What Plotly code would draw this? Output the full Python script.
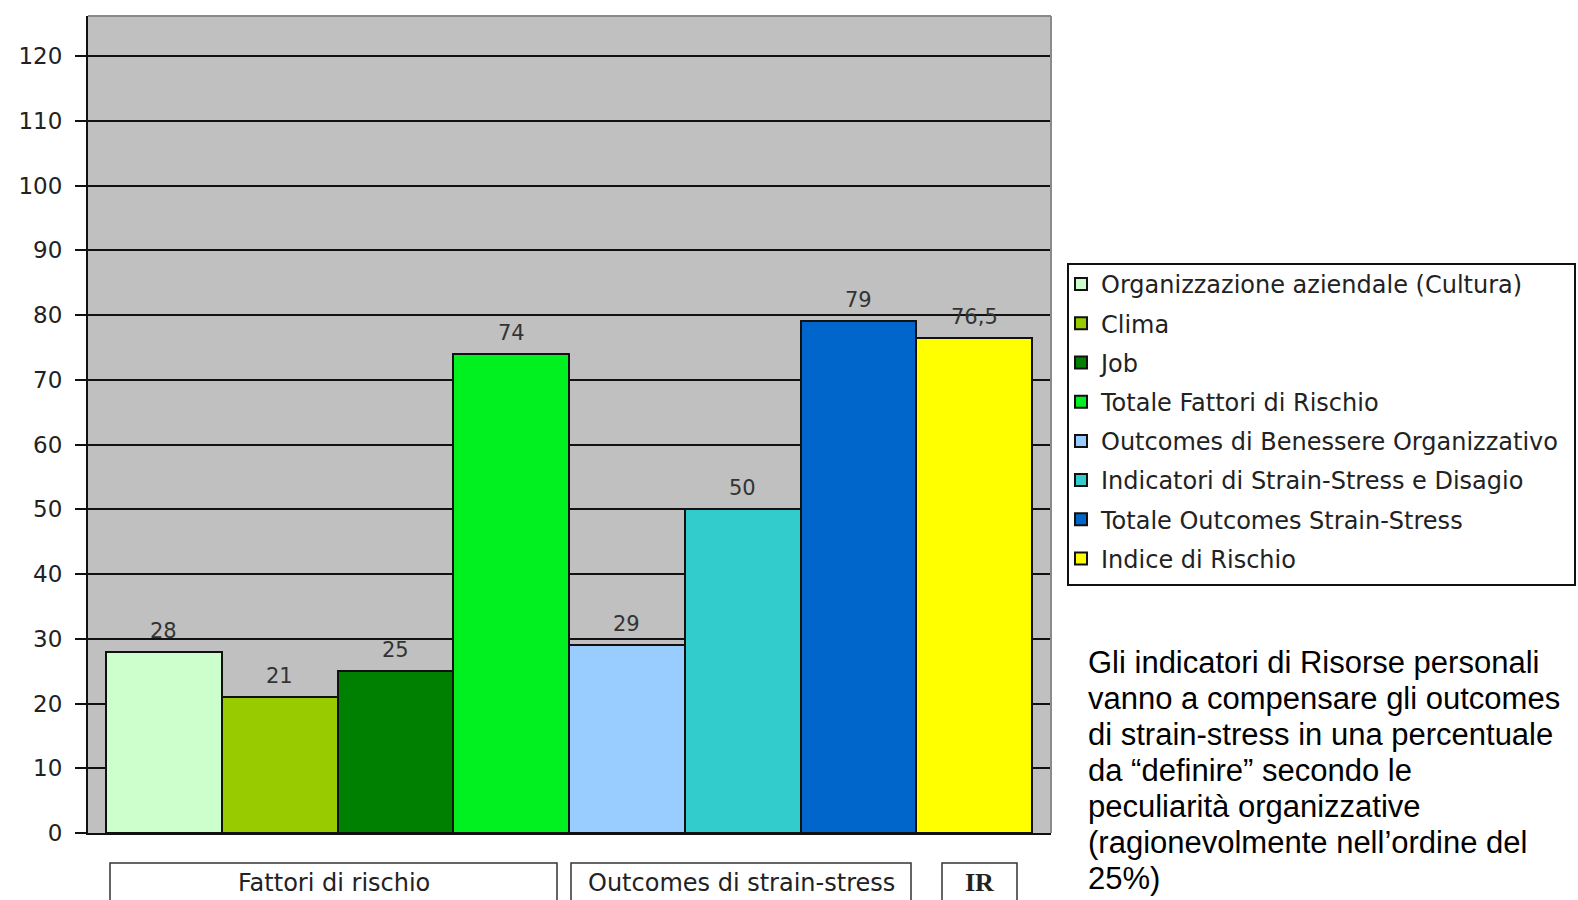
import plotly.graph_objects as go

# ---- data ----
series_names = [
    "Organizzazione aziendale (Cultura)",
    "Clima",
    "Job",
    "Totale Fattori di Rischio",
    "Outcomes di Benessere Organizzativo",
    "Indicatori di Strain-Stress e Disagio",
    "Totale Outcomes Strain-Stress",
    "Indice di Rischio",
]
series_values = [28, 21, 25, 74, 29, 50, 79, 76.5]
value_labels = ["28", "21", "25", "74", "29", "50", "79", "76,5"]
series_colors = ["#CCFFCC", "#99CC00", "#008000", "#00F020",
                 "#99CCFF", "#33CCCC", "#0066CC", "#FFFF00"]
group_labels = ["Fattori di rischio", "Outcomes di strain-stress", "IR"]
note_lines = [
    "Gli indicatori di Risorse personali",
    "vanno a compensare gli outcomes",
    "di strain-stress in una percentuale",
    "da \u201cdefinire\u201d secondo le",
    "peculiarit\u00e0 organizzative",
    "(ragionevolmente nell\u2019ordine del",
    "25%)",
]

# ---- layout geometry (pixels) ----
WIDTH, HEIGHT = 1578, 900
L, R, T, B = 88, 1051, 16, 833
PW, PH = R - L, B - T


def px(x):
    return (x - L) / PW


def py(y):
    return (B - y) / PH


fig = go.Figure()
for i, (name, val, col) in enumerate(zip(series_names, series_values, series_colors)):
    fig.add_trace(go.Bar(
        x=[i], y=[val], name=name, width=1.0,
        marker=dict(color=col, line=dict(color="#111111", width=2)),
        legendgroup=f"g{i}", hoverinfo="y",
    ))
    fig.add_annotation(
        x=i, y=val, xref="x", yref="y", text=value_labels[i],
        showarrow=False, yanchor="bottom", yshift=7,
        font=dict(family="DejaVu Sans", size=21, color="#333333"),
    )

# group boxes below the chart
boxes = [(110, 557), (571, 911), (942, 1017)]
for (x0, x1), lab in zip(boxes, group_labels):
    fig.add_shape(type="rect", xref="paper", yref="paper",
                  x0=px(x0), x1=px(x1), y0=py(910), y1=py(863),
                  line=dict(color="#333333", width=1.5), fillcolor="white")
    if lab == "IR":
        f = dict(family="Liberation Serif", size=26, color="#222222")
        txt = "<b>IR</b>"
    else:
        f = dict(family="DejaVu Sans", size=24, color="#222222")
        txt = lab
    fig.add_annotation(x=px((x0 + x1) / 2), y=py(883), xref="paper", yref="paper",
                       text=txt, showarrow=False, xanchor="center", yanchor="middle",
                       font=f)

# right side note
for k, line in enumerate(note_lines):
    fig.add_annotation(x=px(1086), y=py(662 + k * 36.0), xref="paper", yref="paper",
                       text=line, showarrow=False, xanchor="left", yanchor="middle",
                       font=dict(family="Liberation Sans", size=31, color="#000000"))

# gray top/right border of plot area
fig.add_shape(type="line", xref="paper", yref="paper", x0=0, x1=1, y0=1, y1=1,
              line=dict(color="#8a8a8a", width=2))
fig.add_shape(type="line", xref="paper", yref="paper", x0=1, x1=1, y0=0, y1=1,
              line=dict(color="#8a8a8a", width=2))

# legend frame
fig.add_shape(type="rect", xref="paper", yref="paper",
              x0=px(1068), x1=px(1575), y0=py(585), y1=py(264),
              line=dict(color="#111111", width=2), fillcolor="rgba(0,0,0,0)")

bar_px = (1032 - 106) / 8.0
fig.update_layout(
    width=WIDTH, height=HEIGHT,
    margin=dict(l=L, r=WIDTH - R, t=T, b=HEIGHT - B, pad=0),
    paper_bgcolor="white", plot_bgcolor="#C0C0C0",
    barmode="overlay", bargap=0,
    showlegend=True,
    legend=dict(x=px(1061), y=py(262), xanchor="left", yanchor="top",
                borderwidth=0, bgcolor="rgba(0,0,0,0)",
                font=dict(family="DejaVu Sans", size=24, color="#222222"),
                tracegroupgap=5, traceorder="grouped"),
    xaxis=dict(range=[-0.5 - (106 - L) / bar_px, 7.5 + (R - 1032) / bar_px],
               showticklabels=False, ticks="", showgrid=False, zeroline=False,
               showline=True, linecolor="#111111", linewidth=2, fixedrange=True),
    yaxis=dict(range=[0, (B - T) / ((B - 56) / 120.0)], dtick=10, tick0=0,
               showgrid=True, gridcolor="#111111", gridwidth=2,
               ticks="outside", ticklen=11, tickwidth=2, tickcolor="#111111",
               showline=True, linecolor="#111111", linewidth=2, zeroline=False,
               ticklabelstandoff=8,
               tickfont=dict(family="DejaVu Sans", size=23, color="#222222"),
               fixedrange=True),
)

fig.write_html("out.html")
